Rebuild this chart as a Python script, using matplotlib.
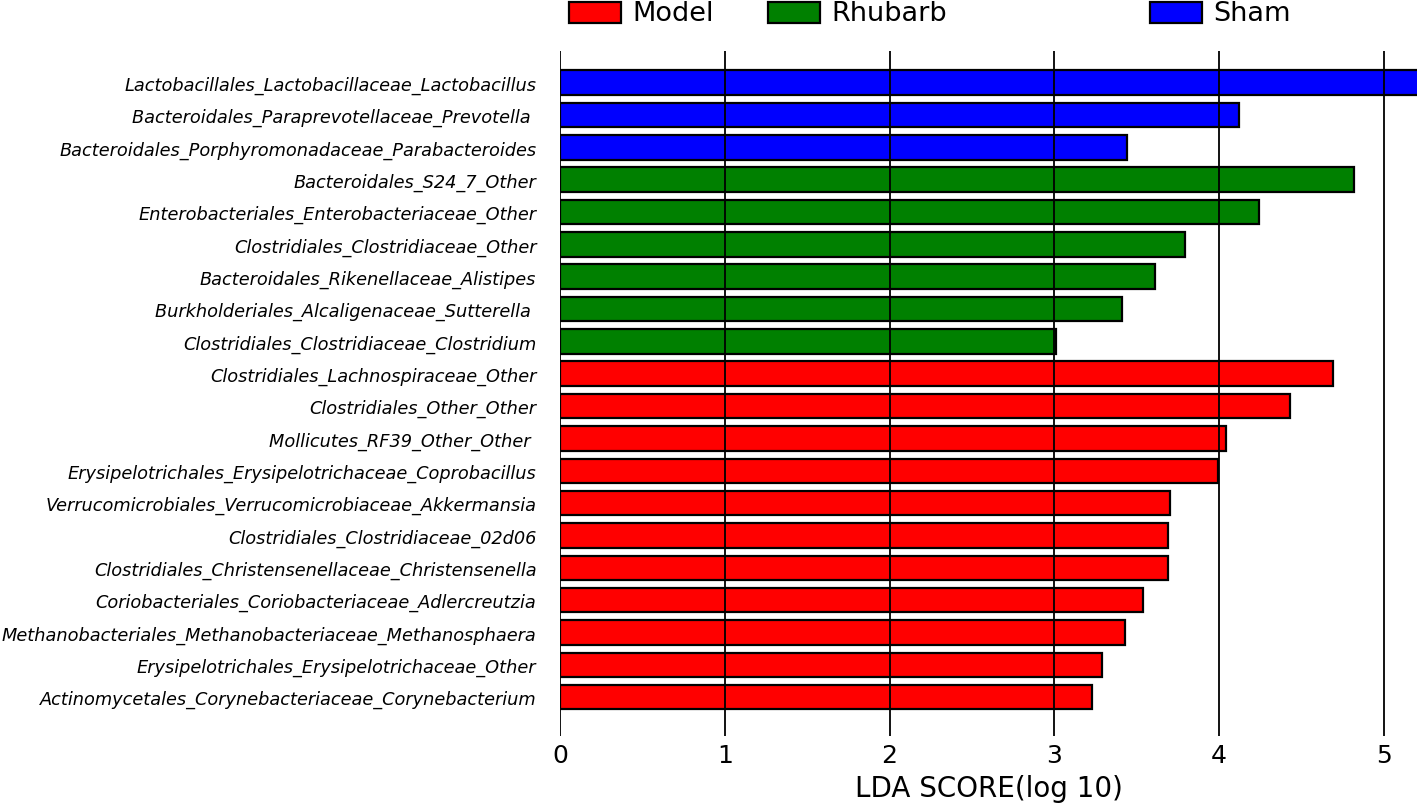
import matplotlib
matplotlib.use("Agg")
import matplotlib.pyplot as plt
from matplotlib.patches import Rectangle

# LEfSe results, listed top to bottom as in the figure
taxa = [
    "Lactobacillales_Lactobacillaceae_Lactobacillus",
    "Bacteroidales_Paraprevotellaceae_Prevotella ",
    "Bacteroidales_Porphyromonadaceae_Parabacteroides",
    "Bacteroidales_S24_7_Other",
    "Enterobacteriales_Enterobacteriaceae_Other",
    "Clostridiales_Clostridiaceae_Other",
    "Bacteroidales_Rikenellaceae_Alistipes",
    "Burkholderiales_Alcaligenaceae_Sutterella ",
    "Clostridiales_Clostridiaceae_Clostridium",
    "Clostridiales_Lachnospiraceae_Other",
    "Clostridiales_Other_Other",
    "Mollicutes_RF39_Other_Other ",
    "Erysipelotrichales_Erysipelotrichaceae_Coprobacillus",
    "Verrucomicrobiales_Verrucomicrobiaceae_Akkermansia",
    "Clostridiales_Clostridiaceae_02d06",
    "Clostridiales_Christensenellaceae_Christensenella",
    "Coriobacteriales_Coriobacteriaceae_Adlercreutzia",
    "Methanobacteriales_Methanobacteriaceae_Methanosphaera",
    "Erysipelotrichales_Erysipelotrichaceae_Other",
    "Actinomycetales_Corynebacteriaceae_Corynebacterium",
]
lda = [5.21, 4.12, 3.44, 4.82, 4.24, 3.79, 3.61, 3.41, 3.01,
       4.69, 4.43, 4.04, 3.99, 3.70, 3.69, 3.69, 3.54, 3.43, 3.29, 3.23]
group = ["Sham"] * 3 + ["Rhubarb"] * 6 + ["Model"] * 11

groups = ["Model", "Rhubarb", "Sham"]
colors = {"Model": "#FF0000", "Rhubarb": "#008000", "Sham": "#0000FF"}
xticks = [0, 1, 2, 3, 4, 5]

fig = plt.figure(figsize=(14.17, 8.12), dpi=100)
ax = fig.add_axes([560 / 1417, 1 - 737 / 812, 857 / 1417, 685 / 812])

n = len(taxa)
ypos = [n - 1 - i for i in range(n)]
ax.barh(ypos, lda, height=0.76, color=[colors[g] for g in group],
        edgecolor="black", linewidth=1.6, zorder=2)

for xv in xticks:
    ax.axvline(xv, color="black", linewidth=1.3, zorder=3)

ax.set_xlim(0, 5.2)
ax.set_ylim(-1.2, n - 0.02)
ax.set_yticks(ypos)
ax.set_yticklabels(taxa, fontsize=12.8, style="italic")
ax.set_xticks(xticks)
ax.set_xticklabels([str(v) for v in xticks], fontsize=18)
ax.tick_params(axis="both", length=0)
ax.tick_params(axis="y", pad=17)
ax.tick_params(axis="x", pad=5)
for s in ax.spines.values():
    s.set_visible(False)
ax.set_xlabel("LDA SCORE(log 10)", fontsize=20, labelpad=5)

# legend row along the top
leg_x = [569, 768, 1150]
for g, lx in zip(groups, leg_x):
    fig.patches.append(Rectangle((lx / 1417, 1 - 24 / 812), 52 / 1417, 21 / 812,
                                 transform=fig.transFigure, facecolor=colors[g],
                                 edgecolor="black", linewidth=1.6))
    fig.text((lx + 63) / 1417, 1 - 14 / 812, g, fontsize=19.5,
             ha="left", va="center")

fig.savefig("out.png", dpi=100)
